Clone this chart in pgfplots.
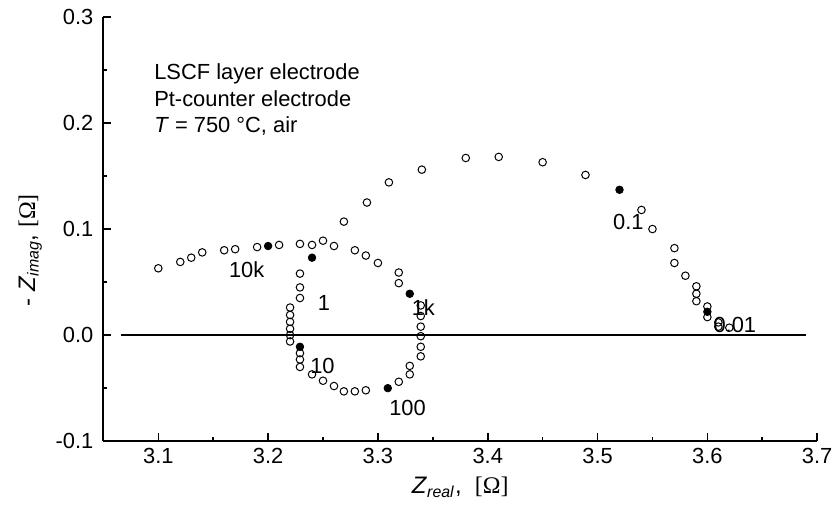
\documentclass[border=0pt]{standalone}
\usepackage{fontspec}
\setmainfont{Liberation Sans}
\newfontfamily\seriffont{Liberation Serif}
\usepackage{pgfplots}
\pgfplotsset{compat=1.18}
\begin{document}
\begin{tikzpicture}
\begin{axis}[
  scale only axis, width=359pt, height=213.4pt,
  xmin=3.05, xmax=3.7, ymin=-0.1, ymax=0.3,
  axis x line*=bottom, axis y line*=left,
  axis line style={line width=1pt},
  tick align=inside,
  major tick length=4pt, minor tick length=2pt,
  every tick/.style={line width=0.8pt, black},
  xtick={3.1,3.2,3.3,3.4,3.5,3.6,3.7},
  ytick={-0.1,0,0.1,0.2,0.3},
  minor xtick={3.05,3.15,3.25,3.35,3.45,3.55,3.65},
  minor ytick={-0.05,0.05,0.15,0.25},
  ticklabel style={font=\fontsize{11}{13}\selectfont},
  /pgf/number format/assume math mode=true,
  /pgf/number format/fixed,
  /pgf/number format/fixed zerofill,
  /pgf/number format/precision=1,
  yticklabel style={xshift=-1.5pt},
  xlabel={\textit{Z}\textsubscript{\textit{real}},\ \ {\seriffont[Ω]}},
  ylabel={- \textit{Z}\textsubscript{\textit{imag}}, {\seriffont[Ω]}},
  label style={font=\fontsize{12}{14}\selectfont},
  ylabel style={at={(ticklabel cs:0.45)}},
  clip=false,
]
% zero line
\addplot[black, line width=1pt, no marks] coordinates {(3.066,0) (3.69,0)};
% open points
\addplot[only marks, mark=o, mark size=1.9pt, mark options={black, line width=0.5pt}] coordinates {
(3.100,0.063) (3.120,0.069) (3.130,0.073) (3.140,0.078) (3.160,0.080) (3.170,0.081)
(3.190,0.083) (3.210,0.085) (3.229,0.086) (3.240,0.085) (3.250,0.089) (3.260,0.084)
(3.279,0.080) (3.289,0.075) (3.300,0.068) (3.319,0.059) (3.319,0.049)
(3.339,0.028) (3.339,0.018) (3.339,0.008) (3.339,-0.001) (3.339,-0.011) (3.339,-0.020)
(3.329,-0.029) (3.329,-0.037) (3.319,-0.044) (3.289,-0.052) (3.279,-0.053) (3.269,-0.053)
(3.260,-0.048) (3.250,-0.043) (3.240,-0.037) (3.229,-0.030) (3.229,-0.023) (3.229,-0.017)
(3.220,-0.006) (3.220,0.000) (3.220,0.006) (3.220,0.0125) (3.220,0.019) (3.220,0.026)
(3.229,0.035) (3.229,0.045) (3.229,0.058)
(3.269,0.107) (3.290,0.125) (3.310,0.144) (3.340,0.156) (3.380,0.167) (3.410,0.168)
(3.450,0.163) (3.489,0.151) (3.540,0.118) (3.550,0.100) (3.570,0.082) (3.570,0.068)
(3.580,0.056) (3.590,0.046) (3.590,0.039) (3.590,0.032) (3.600,0.027) (3.600,0.017)
(3.610,0.012) (3.610,0.008) (3.620,0.007)
};
% filled points
\addplot[only marks, mark=*, mark size=1.9pt, mark options={black}] coordinates {
(3.200,0.084) (3.329,0.039) (3.309,-0.050) (3.229,-0.011) (3.240,0.073) (3.520,0.137) (3.600,0.022)
};
\begin{scope}[every node/.style={font=\fontsize{11}{13}\selectfont, inner sep=0pt}]
\node at (axis cs:3.1805,0.0616) {10k};
\node at (axis cs:3.2508,0.0303) {1};
\node at (axis cs:3.3414,0.026) {1k};
\node at (axis cs:3.2495,-0.0288) {10};
\node at (axis cs:3.327,-0.069) {100};
\node at (axis cs:3.528,0.107) {0.1};
\node at (axis cs:3.625,0.0097) {0.01};
\node[anchor=base west] at (axis cs:3.096,0.241) {LSCF layer electrode};
\node[anchor=base west] at (axis cs:3.096,0.216) {Pt-counter electrode};
\node[anchor=base west] at (axis cs:3.096,0.191) {\textit{T} = 750 °C, air};
\end{scope}
\end{axis}
\path[use as bounding box] ([xshift=-52pt,yshift=-40pt]current axis.south west) rectangle ([xshift=8.5pt,yshift=8.5pt]current axis.north east);
\end{tikzpicture}
\end{document}
